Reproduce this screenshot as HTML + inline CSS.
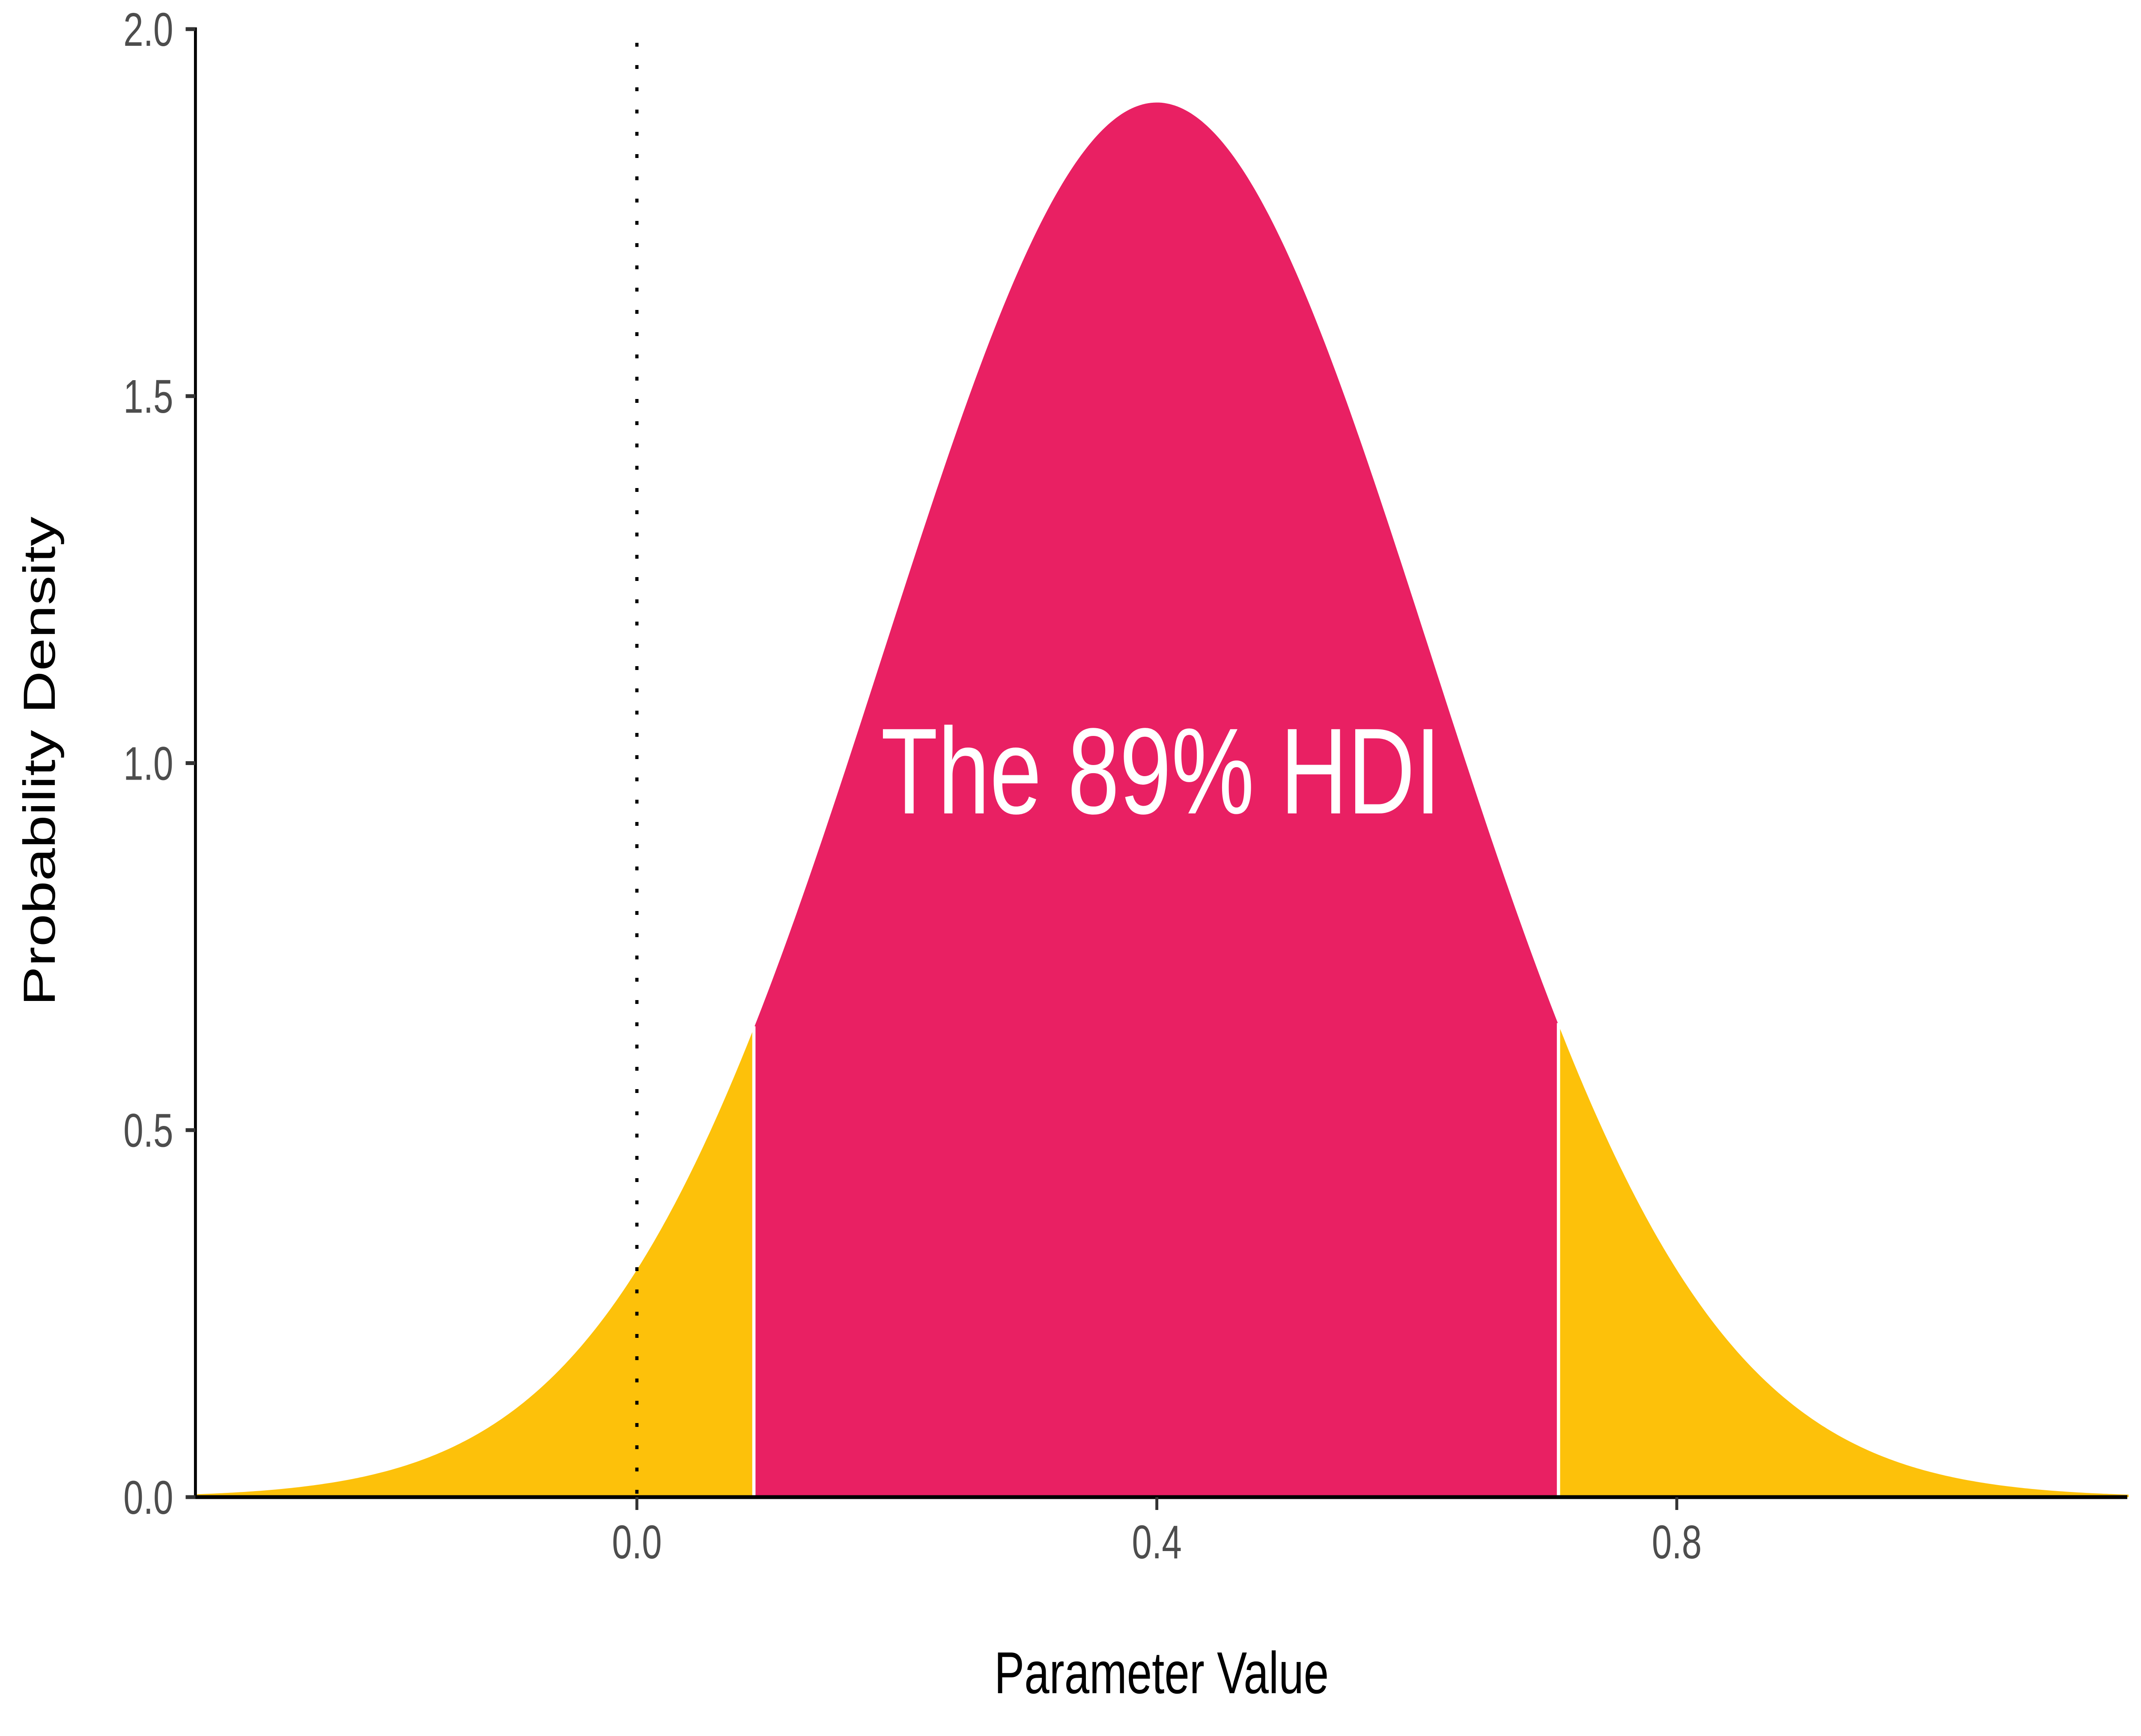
<!DOCTYPE html>
<html><head><meta charset="utf-8"><style>
html,body{margin:0;padding:0;background:#fff;width:6562px;height:4055px;overflow:hidden;}
svg{display:block;position:absolute;left:0;top:0;width:100vw;height:100vh;}
text{font-family:"Liberation Sans",Arial,sans-serif;}
</style></head><body>
<svg id="chart" viewBox="0 0 6562 4055" preserveAspectRatio="none" xmlns="http://www.w3.org/2000/svg">
<defs><clipPath id="plotclip"><rect x="604" y="0" width="5920" height="3497"/></clipPath></defs>
<g id="marks" clip-path="url(#plotclip)"></g>
<g id="axes"></g>
<text x="3558" y="1900" font-size="286" fill="#ffffff" text-anchor="middle">The 89% HDI</text>
<text x="3560" y="3955" font-size="138" fill="#000" text-anchor="middle">Parameter Value</text>
<text transform="translate(168,1778) rotate(-90)" font-size="138" fill="#000" text-anchor="middle">Probability Density</text>
</svg>
<script>
const distMean = [0.4];
const distSd = [0.21];
const distPeak = [1.9];
const curveRange = [-0.5, 1.3];
const hdiBounds = [0.09, 0.709];
const referenceLine = [0.0];
const xTicks = [0.0, 0.4, 0.8];
const xTickLabels = ["0.0", "0.4", "0.8"];
const yTicks = [0.0, 0.5, 1.0, 1.5, 2.0];
const yTickLabels = ["0.0", "0.5", "1.0", "1.5", "2.0"];

const NS = "http://www.w3.org/2000/svg";
const X0 = 1952, XPER = 3984;
const Y0 = 3497, YPER = 1714.5;
const xs = v => X0 + v * XPER;
const ys = v => Y0 - v * YPER;
const AXL = 599, AXR = 6520;
function dens(x){ return distPeak[0]*Math.exp(-0.5*Math.pow((x-distMean[0])/distSd[0],2)); }
function area(a,b){
  const n=300; let d="M"+xs(a)+","+ys(0);
  for(let i=0;i<=n;i++){const x=a+(b-a)*i/n; d+=" L"+xs(x).toFixed(1)+","+ys(dens(x)).toFixed(1);}
  return d+" L"+xs(b)+","+ys(0)+" Z";
}
function mk(tag,attrs,parent){const e=document.createElementNS(NS,tag);for(const k in attrs)e.setAttribute(k,attrs[k]);parent.appendChild(e);return e;}
const marks=document.getElementById('marks');
const axes=document.getElementById('axes');
let e;
e=mk('path',{d:area(curveRange[0],hdiBounds[0]),fill:'#FDC10A'},marks);


e=mk('path',{d:area(hdiBounds[1],curveRange[1]),fill:'#FDC10A'},marks);


e=mk('path',{d:area(hdiBounds[0],hdiBounds[1]),fill:'#E92063'},marks);


hdiBounds.forEach((b,i)=>{
  const el=mk('line',{x1:xs(b),x2:xs(b),y1:ys(0),y2:ys(dens(b))-4,stroke:'#fff','stroke-width':10},marks);
  
  
});
e=mk('line',{x1:xs(referenceLine[0]),x2:xs(referenceLine[0]),y1:100,y2:Y0,stroke:'#000','stroke-width':10,'stroke-dasharray':'9 43'},marks);


e=mk('line',{x1:AXL,x2:AXL,y1:ys(2)-4,y2:Y0+4,stroke:'#000','stroke-width':9},axes);


e=mk('line',{x1:AXL-4,x2:AXR,y1:Y0,y2:Y0,stroke:'#000','stroke-width':9},axes);


xTicks.forEach((t,i)=>{
  const l=mk('line',{x1:xs(t),x2:xs(t),y1:Y0,y2:Y0+30,stroke:'#333','stroke-width':9},axes);
  
  
  const tx=mk('text',{x:xs(t),y:3640,'font-size':110,fill:'#4d4d4d','text-anchor':'middle'},axes);
  tx.textContent=xTickLabels[i];
  
  
});
yTicks.forEach((t,i)=>{
  const l=mk('line',{x1:AXL-30,x2:AXL,y1:ys(t),y2:ys(t),stroke:'#333','stroke-width':9},axes);
  
  
  const tx=mk('text',{x:531,y:ys(t)+39,'font-size':110,fill:'#4d4d4d','text-anchor':'end'},axes);
  tx.textContent=yTickLabels[i];
  
  
});
</script>
</body></html>
